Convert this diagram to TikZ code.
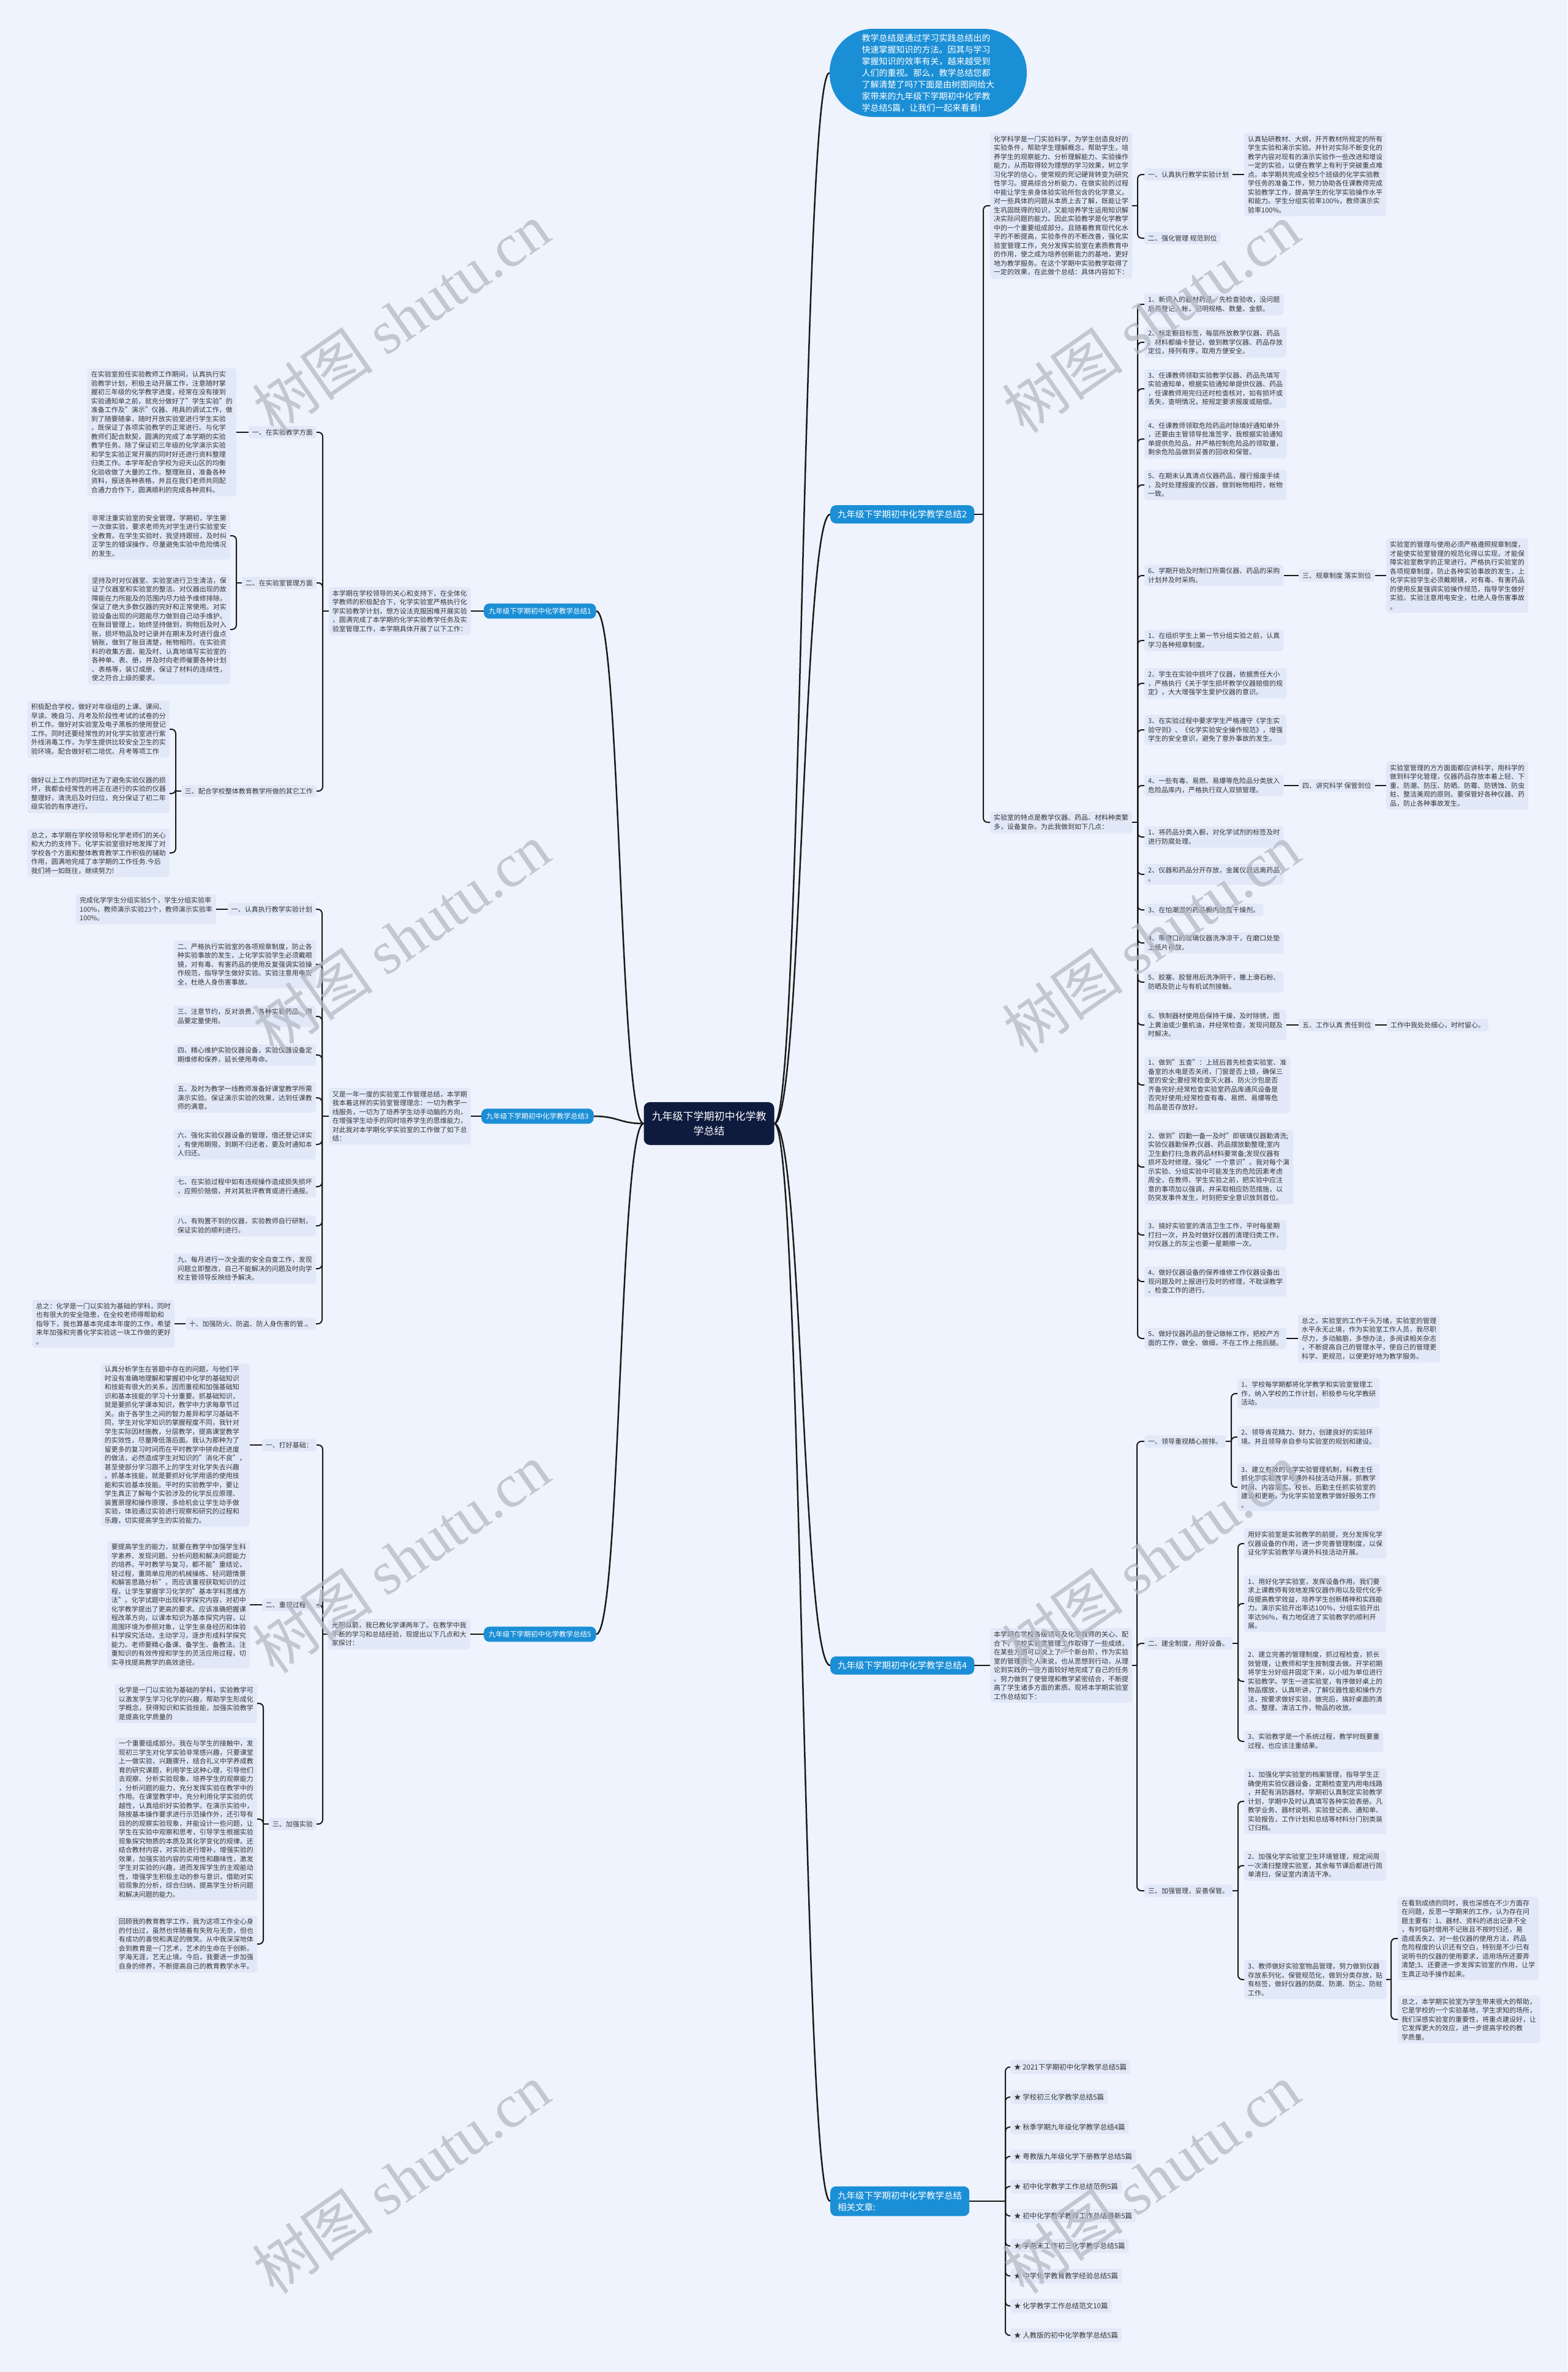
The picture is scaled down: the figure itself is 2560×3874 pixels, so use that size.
\documentclass[tikz,border=0pt]{standalone}
\usepackage{fontspec}
\setmainfont{Noto Sans CJK SC}
\newfontfamily\wmlat{Liberation Serif}
\usetikzlibrary{calc}
\definecolor{bgc}{HTML}{EEF3FD}
\definecolor{boxfill}{HTML}{E1E9F9}
\definecolor{txt}{HTML}{363636}
\definecolor{lblue}{HTML}{1B8FD6}
\definecolor{navy}{HTML}{0F1B3E}
\definecolor{wm}{HTML}{B4B9C4}
\tikzset{
 para/.style={fill=boxfill, rounded corners=4pt, inner xsep=6pt, inner ysep=5pt, text=txt, font=\fontsize{11}{14.5}\selectfont, align=left},
 rp/.style={para, anchor=west},
 lp/.style={para, anchor=east},
 lbl/.style={fill=lblue, text=white, rounded corners=9pt, inner xsep=12pt, inner ysep=8pt, font=\fontsize{14.5}{19}\selectfont, align=left},
 lbll/.style={lbl, font=\fontsize{11.5}{15}\selectfont, inner xsep=8pt, inner ysep=7pt},
 relitem/.style={para, anchor=west, font=\fontsize{11.5}{14}\selectfont, inner ysep=6pt},
 conn/.style={draw=black!90, line width=2pt},
 mainc/.style={draw=black!90, line width=2.5pt},
 wmark/.style={text=wm, text opacity=0.75, font=\fontsize{100}{100}\selectfont, rotate=35}
}
\newcommand\rbrk[3]{\coordinate (bx) at (#2,0);
 \draw[conn] (#1.east) -- (#1.east -| bx) coordinate (bt);
 \foreach \ch in {#3}{\draw[conn,rounded corners=7pt] (bt) |- (\ch.west);}}
\newcommand\lbrk[3]{\coordinate (bx) at (#2,0);
 \draw[conn] (#1.west) -- (#1.west -| bx) coordinate (bt);
 \foreach \ch in {#3}{\draw[conn,rounded corners=7pt] (bt) |- (\ch.east);}}
\begin{document}
\begin{tikzpicture}[x=1pt,y=-1pt]
\useasboundingbox (0,0) rectangle (2560,3874);
\fill[bgc] (0,0) rectangle (2560,3874);

% ---------- root and intro ----------
\node[fill=navy, text=white, rounded corners=10pt, minimum width=213pt, minimum height=70pt, font=\fontsize{17}{24}\selectfont, align=center] (root) at (1158,1835) {九年级下学期初中化学教\\学总结};
\node[fill=lblue, text=white, rounded corners=71pt, minimum width=322pt, minimum height=144pt, font=\fontsize{14}{19}\selectfont, align=left] (intro) at (1516,119) {教学总结是通过学习实践总结出的\\快速掌握知识的方法。因其与学习\\掌握知识的效率有关，越来越受到\\人们的重视。那么，教学总结您都\\了解清楚了吗?下面是由树图网给大\\家带来的九年级下学期初中化学教\\学总结5篇，让我们一起来看看!};

% ---------- branch labels ----------
\node[lbl, anchor=west] (b2) at (1356,840) {九年级下学期初中化学教学总结2};
\node[lbl, anchor=west] (b4) at (1356,2720) {九年级下学期初中化学教学总结4};
\node[lbl, anchor=west] (rel) at (1356,3595) {九年级下学期初中化学教学总结\\相关文章:};
\node[lbll, anchor=west] (b1) at (790,998) {九年级下学期初中化学教学总结1};
\node[lbll, anchor=west] (b3) at (786,1823) {九年级下学期初中化学教学总结3};
\node[lbll, anchor=west] (b5) at (790,2669) {九年级下学期初中化学教学总结5};

% ---------- branch 2 ----------
\node[rp] (P2a) at (1617,336) {化学科学是一门实验科学，为学生创造良好的\\实验条件，帮助学生理解概念，帮助学生，培\\养学生的观察能力、分析理解能力、实验操作\\能力，从而取得较为理想的学习效果，树立学\\习化学的信心，使常规的死记硬背转变为研究\\性学习。提高综合分析能力，在做实验的过程\\中能让学生亲身体验实验所包含的化学意义。\\对一些具体的问题从本质上去了解，既能让学\\生巩固既得的知识，又能培养学生运用知识解\\决实际问题的能力。因此实验教学是化学教学\\中的一个重要组成部分。且随着教育现代化水\\平的不断提高，实验条件的不断改善，强化实\\验室管理工作，充分发挥实验室在素质教育中\\的作用，使之成为培养创新能力的基地，更好\\地为教学服务。在这个学期中实验教学取得了\\一定的效果，在此做个总结：具体内容如下：};
\node[rp] (r1a) at (1869,285) {一、认真执行教学实验计划};
\node[rp] (r1b) at (1869,389) {二、强化管理 规范到位};
\node[rp] (r1a1) at (2032,285) {认真钻研教材、大纲，开齐教材所规定的所有\\学生实验和演示实验。并针对实际不断变化的\\教学内容对现有的演示实验作一些改进和增设\\一定的实验，以便在教学上有利于突破重点难\\点。本学期共完成全校5个班级的化学实验教\\学任务的准备工作，努力协助各任课教师完成\\实验教学工作，提高学生的化学实验操作水平\\和能力。学生分组实验率100\%，教师演示实\\验率100\%。};
\node[rp] (P2b) at (1617,1343) {实验室的特点是教学仪器、药品、材料种类繁\\多，设备复杂。为此我做到如下几点：};
\node[rp] (i1) at (1869,497) {1、新调入的器材药品，先检查验收，没问题\\后再登记入帐，记明规格、数量、金额。};
\node[rp] (i2) at (1869,559) {2、标定橱目标签，每层所放教学仪器、药品\\、材料都编卡登记，做到教学仪器、药品存放\\定位，排列有序，取用方便安全。};
\node[rp] (i3) at (1869,635) {3、任课教师领取实验教学仪器、药品先填写\\实验通知单，根据实验通知单提供仪器、药品\\，任课教师用完归还时检查核对，如有损坏或\\丢失，查明情况，按规定要求报废或赔偿。};
\node[rp] (i4) at (1869,717) {4、任课教师领取危险药品时除填好通知单外\\，还要由主管领导批准签字，我根据实验通知\\单提供危险品，并严格控制危险品的领取量，\\剩余危险品做到妥善的回收和保管。};
\node[rp] (i5) at (1869,792) {5、在期末认真清点仪器药品，履行报废手续\\，及时处理报废的仪器，做到帐物相符，帐物\\一致。};
\node[rp] (i6) at (1869,940) {6、学期开始及时制订所需仪器、药品的采购\\计划并及时采购。};
\node[rp] (i7) at (1869,1046) {1、在组织学生上第一节分组实验之前，认真\\学习各种规章制度。};
\node[rp] (i8) at (1869,1116) {2、学生在实验中损坏了仪器，依据责任大小\\，严格执行《关于学生损坏教学仪器赔偿的规\\定》，大大增强学生爱护仪器的意识。};
\node[rp] (i9) at (1869,1192) {3、在实验过程中要求学生严格遵守《学生实\\验守则》、《化学实验安全操作规范》，增强\\学生的安全意识，避免了意外事故的发生。};
\node[rp] (i10) at (1869,1283) {4、一些有毒、易燃、易爆等危险品分类放入\\危险品库内，严格执行双人双锁管理。};
\node[rp] (i11) at (1869,1367) {1、将药品分类入橱，对化学试剂的标签及时\\进行防腐处理。};
\node[rp] (i12) at (1869,1428) {2、仪器和药品分开存放，金属仪器远离药品\\。};
\node[rp] (i13) at (1869,1486) {3、在怕潮湿的药品橱内放置干燥剂。};
\node[rp] (i14) at (1869,1540) {4、带磨口的玻璃仪器洗净凉干，在磨口处垫\\上纸片存放。};
\node[rp] (i15) at (1869,1604) {5、胶塞、胶管用后洗净阴干，撒上滑石粉、\\防晒及防止与有机试剂接触。};
\node[rp] (i16) at (1869,1674) {6、铁制器材使用后保持干燥，及时除锈，图\\上黄油或少量机油，并经常检查，发现问题及\\时解决。};
\node[rp] (i17) at (1869,1772) {1、做到"五查"：上班后首先检查实验室、准\\备室的水电是否关闭，门窗是否上锁，确保三\\室的安全;要经常检查灭火器、防火沙包是否\\齐备完好;经常检查实验室药品库通风设备是\\否完好使用;经常检查有毒、易燃、易爆等危\\险品是否存放好。};
\node[rp] (i18) at (1869,1906) {2、做到"四勤一备一及时"即玻璃仪器勤清洗;\\实验仪器勤保养;仪器、药品摆放勤整理;室内\\卫生勤打扫;急救药品材料要常备;发现仪器有\\损坏及时修理。强化"一个意识"。我对每个演\\示实验、分组实验中可能发生的危险因素考虑\\周全，在教师、学生实验之前，把实验中应注\\意的事项加以强调，并采取相应防范措施，以\\防突发事件发生，时刻把安全意识放到首位。};
\node[rp] (i19) at (1869,2017) {3、搞好实验室的清洁卫生工作，平时每星期\\打扫一次，并及时做好仪器的清理归类工作，\\对仪器上的灰尘也要一星期擦一次。};
\node[rp] (i20) at (1869,2093) {4、做好仪器设备的保养维修工作仪器设备出\\现问题及时上报进行及时的修理，不耽误教学\\、检查工作的进行。};
\node[rp] (i21) at (1869,2186) {5、做好仪器药品的登记做帐工作，把校产方\\面的工作，做全、做细，不在工作上拖后腿。};
\node[rp] (l6) at (2121,940) {三、规章制度 落实到位};
\node[rp] (p6) at (2264,940) {实验室的管理与使用必须严格遵照规章制度，\\才能使实验室管理的规范化得以实现，才能保\\障实验室教学的正常进行。严格执行实验室的\\各项规章制度，防止各种实验事故的发生，上\\化学实验学生必须戴眼镜，对有毒、有害药品\\的使用反复强调实验操作规范，指导学生做好\\实验。实验注意用电安全，杜绝人身伤害事故\\。};
\node[rp] (l10) at (2121,1283) {四、讲究科学 保管到位};
\node[rp] (p10) at (2264,1283) {实验室管理的方方面面都应讲科学，用科学的\\做到科学化管理，仪器药品存放本着上轻、下\\重、防潮、防压、防晒、防霉、防锈蚀、防虫\\蛀、整洁美观的原则。要保管好各种仪器、药\\品，防止各种事故发生。};
\node[rp] (l16) at (2121,1674) {五、工作认真 责任到位};
\node[rp] (p16) at (2265,1674) {工作中我处处细心，时时留心。};
\node[rp] (p21) at (2120,2186) {总之，实验室的工作千头万绪，实验室的管理\\水平永无止境，作为实验室工作人员，我尽职\\尽力，多动脑筋，多想办法，多阅读相关杂志\\，不断提高自己的管理水平，使自己的管理更\\科学、更规范，以便更好地为教学服务。};

% ---------- branch 4 ----------
\node[rp] (P4) at (1617,2720) {本学期在学校各级领导及化学教师的关心、配\\合下，学校实验室管理工作取得了一些成绩，\\在某些方面可以说上了一个新台阶，作为实验\\室的管理员个人来说，也从思想到行动，从理\\论到实践的一些方面较好地完成了自己的任务\\。努力做到了使管理和教学紧密结合，不断提\\高了学生诸多方面的素质。现将本学期实验室\\工作总结如下：};
\node[rp] (g1) at (1869,2354) {一、领导重视精心按排。};
\node[rp] (g2) at (1869,2684) {二、建全制度，用好设备。};
\node[rp] (g3) at (1869,3088) {三、加强管理，妥善保管。};
\node[rp] (g1a) at (2021,2276) {1、学校每学期都将化学教学和实验室管理工\\作，纳入学校的工作计划，积极参与化学教研\\活动。};
\node[rp] (g1b) at (2021,2347) {2、领导肯花精力、财力，创建良好的实验环\\境。并且领导亲自参与实验室的规划和建设。};
\node[rp] (g1c) at (2021,2429) {3、建立有效的化学实验管理机制，科教主任\\抓化学实验教学与课外科技活动开展，抓教学\\时间、内容落实，校长、后勤主任抓实验室的\\建设和更新，为化学实验室教学做好服务工作\\。};
\node[rp] (g2a) at (2032,2521) {用好实验室是实验教学的前提，充分发挥化学\\仪器设备的作用，进一步完善管理制度，以保\\证化学实验教学与课外科技活动开展。};
\node[rp] (g2b) at (2032,2619) {1、用好化学实验室，发挥设备作用。我们要\\求上课教师有效地发挥仪器作用以及现代化手\\段提高教学效益，培养学生创新精神和实践能\\力。演示实验开出率达100\%，分组实验开出\\率达96\%，有力地促进了实验教学的顺利开\\展。};
\node[rp] (g2c) at (2032,2746) {2、建立完善的管理制度，抓过程检查，抓长\\效管理，让教师和学生按制度去做。开学初期\\将学生分好组并固定下来，以小组为单位进行\\实验教学。学生一进实验室，有序做好桌上的\\物品摆放，认真听讲，了解仪器性能和操作方\\法，按要求做好实验，做完后，搞好桌面的清\\点、整理、清洁工作，物品的收放。};
\node[rp] (g2d) at (2032,2844) {3、实验教学是一个系统过程，教学时既要重\\过程，也应该注重结果。};
\node[rp] (g3a) at (2032,2942) {1、加强化学实验室的档案管理，指导学生正\\确使用实验仪器设备，定期检查室内用电线路\\，并配有消防器材。学期初认真制定实验教学\\计划，学期中及时认真填写各种实验表册。凡\\教学业务、器材说明、实验登记表、通知单、\\实验报告，工作计划和总结等材料分门别类装\\订归档。};
\node[rp] (g3b) at (2032,3047) {2、加强化学实验室卫生环境管理，规定间周\\一次清扫整理实验室，其余每节课后都进行简\\单清扫，保证室内清洁干净。};
\node[rp] (g3c) at (2032,3233) {3、教师做好实验室物品管理，努力做到仪器\\存放系列化，保管规范化，做到分类存放，贴\\有标签，做好仪器的防腐、防潮、防尘、防蛀\\工作。};
\node[rp] (g3c1) at (2283,3166) {在看到成绩的同时，我也深感在不少方面存\\在问题，反思一学期来的工作，认为存在问\\题主要有：1、器材、资料的进出记录不全\\，有时临时借用不记账且不按时归还，易\\造成丢失2、对一些仪器的使用方法，药品\\危险程度的认识还有空白，特别是不少已有\\说明书的仪器的使用要求，适用场所还要弄\\清楚;3、还要进一步发挥实验室的作用，让学\\生真正动手操作起来。};
\node[rp] (g3c2) at (2283,3298) {总之，本学期实验室为学生带来很大的帮助，\\它是学校的一个实验基地，学生求知的场所，\\我们深感实验室的重要性，将重点建设好，让\\它发挥更大的效应，进一步提高学校的教\\学质量。};

% ---------- related ----------
\node[relitem] (ra1) at (1650,3376) {★ 2021下学期初中化学教学总结5篇};
\node[relitem] (ra2) at (1650,3425) {★ 学校初三化学教学总结5篇};
\node[relitem] (ra3) at (1650,3474) {★ 秋季学期九年级化学教学总结4篇};
\node[relitem] (ra4) at (1650,3522) {★ 粤教版九年级化学下册教学总结5篇};
\node[relitem] (ra5) at (1650,3571) {★ 初中化学教学工作总结范例5篇};
\node[relitem] (ra6) at (1650,3619) {★ 初中化学教学教师工作总结最新5篇};
\node[relitem] (ra7) at (1650,3668) {★ 学期末工作初三化学教学总结5篇};
\node[relitem] (ra8) at (1650,3717) {★ 中学化学教育教学经验总结5篇};
\node[relitem] (ra9) at (1650,3766) {★ 化学教学工作总结范文10篇};
\node[relitem] (ra10) at (1650,3814) {★ 人教版的初中化学教学总结5篇};

% ---------- branch 1 ----------
\node[lp] (P1) at (769,998) {本学期在学校领导的关心和支持下，在全体化\\学教师的积极配合下，化学实验室严格执行化\\学实验教学计划，想方设法克服困难开展实验\\，圆满完成了本学期的化学实验教学任务及实\\验室管理工作，本学期具体开展了以下工作：};
\node[lp] (a1) at (517,706) {一、在实验教学方面};
\node[lp] (a2) at (517,952) {二、在实验室管理方面};
\node[lp] (a3) at (517,1292) {三、配合学校整体教育教学所做的其它工作};
\node[lp] (a1p) at (386,706) {在实验室担任实验教师工作期间，认真执行实\\验教学计划，积极主动开展工作，注意随时掌\\握初三年级的化学教学进度，经常在没有接到\\实验通知单之前，就充分做好了"学生实验"的\\准备工作及"演示"仪器、用具的调试工作，做\\到了随要随拿，随时开放实验室进行学生实验\\，既保证了各项实验教学的正常进行。与化学\\教师们配合默契，圆满的完成了本学期的实验\\教学任务。除了保证初三年级的化学演示实验\\和学生实验正常开展的同时好还进行资料整理\\归类工作。本学年配合学校为迎天山区的均衡\\化验收做了大量的工作。整理账目，准备各种\\资料，报送各种表格，并且在我们老师共同配\\合通力合作下，圆满顺利的完成各种资料。};
\node[lp] (a2a) at (376,875) {非常注重实验室的安全管理，学期初，学生第\\一次做实验，要求老师先对学生进行实验室安\\全教育。在学生实验时，我坚持跟班，及时纠\\正学生的错误操作，尽量避免实验中危险情况\\的发生。};
\node[lp] (a2b) at (376,1028) {坚持及时对仪器室、实验室进行卫生清洁，保\\证了仪器室和实验室的整洁。对仪器出现的故\\障能在力所能及的范围内尽力给予维修排除，\\保证了绝大多数仪器的完好和正常使用。对实\\验设备出现的问题能尽力做到自己动手维护。\\在账目管理上，始终坚持做到，购物后及时入\\账，损坏物品及时记录并在期末及时进行盘点\\销账，做到了账目清楚，帐物相符。在实验资\\料的收集方面，能及时、认真地填写实验室的\\各种单、表、册，并及时向老师催要各种计划\\、表格等，装订成册，保证了材料的连续性，\\使之符合上级的要求。};
\node[lp] (a3a) at (277,1191) {积极配合学校，做好对年级组的上课、课间、\\早读、晚自习、月考及阶段性考试的试卷的分\\析工作。做好对实验室及电子黑板的使用登记\\工作。同时还要经常性的对化学实验室进行紫\\外线消毒工作，为学生提供比较安全卫生的实\\验环境。配合做好初二培优、月考等项工作};
\node[lp] (a3b) at (277,1296) {做好以上工作的同时还为了避免实验仪器的损\\坏，我都会经常性的将正在进行的实验的仪器\\整理好，清洗后及时归位，充分保证了初二年\\级实验的有序进行。};
\node[lp] (a3c) at (277,1393) {总之，本学期在学校领导和化学老师们的关心\\和大力的支持下。化学实验室很好地发挥了对\\学校各个方面和整体教育教学工作积极的辅助\\作用，圆满地完成了本学期的工作任务.今后\\我们将一如既往，继续努力!};

% ---------- branch 3 ----------
\node[lp] (P3) at (769,1823) {又是一年一度的实验室工作管理总结，本学期\\我本着这样的实验室管理理念：一切为教学一\\线服务，一切为了培养学生动手动脑的方向，\\在增强学生动手的同时培养学生的思维能力，\\对此我对本学期化学实验室的工作做了如下总\\结：};
\node[lp] (c1) at (516,1485) {一、认真执行教学实验计划};
\node[lp] (c1p) at (353,1485) {完成化学学生分组实验5个，学生分组实验率\\100\%，教师演示实验23个，教师演示实验率\\100\%。};
\node[lp] (c2) at (516,1575) {二、严格执行实验室的各项规章制度，防止各\\种实验事故的发生，上化学实验学生必须戴眼\\镜，对有毒、有害药品的使用反复强调实验操\\作规范，指导学生做好实验。实验注意用电安\\全，杜绝人身伤害事故。};
\node[lp] (c3) at (516,1660) {三、注意节约，反对浪费，各种实验药品、用\\品要定量使用。};
\node[lp] (c4) at (516,1723) {四、精心维护实验仪器设备，实验仪器设备定\\期维修和保养，延长使用寿命。};
\node[lp] (c5) at (516,1793) {五、及时为教学一线教师准备好课堂教学所需\\演示实验。保证演示实验的效果，达到任课教\\师的满意。};
\node[lp] (c6) at (516,1869) {六、强化实验仪器设备的管理，借还登记详实\\，有使用期限，到期不归还者，要及时通知本\\人归还。};
\node[lp] (c7) at (516,1938) {七、在实验过程中如有违规操作造成损失损坏\\，应照价赔偿，并对其批评教育或进行通报。};
\node[lp] (c8) at (516,2002) {八、有购置不到的仪器，实验教师自行研制，\\保证实验的顺利进行。};
\node[lp] (c9) at (516,2072) {九、每月进行一次全面的安全自查工作，发现\\问题立即整改，自己不能解决的问题及时向学\\校主管领导反映给予解决。};
\node[lp] (c10) at (516,2162) {十、加强防火、防盗、防人身伤害的管.。};
\node[lp] (c10p) at (285,2162) {总之：化学是一门以实验为基础的学科，同时\\也有很大的安全隐患，在全校老师得帮助和\\指导下，我也算基本完成本年度的工作，希望\\来年加强和完善化学实验这一块工作做的更好\\。};

% ---------- branch 5 ----------
\node[lp] (P5) at (768,2669) {光阴似箭，我已教化学课两年了。在教学中我\\不断的学习和总结经验，现提出以下几点和大\\家探讨：};
\node[lp] (d1) at (517,2360) {一、打好基础：};
\node[lp] (d2) at (517,2621) {二、重视过程：};
\node[lp] (d3) at (517,2979) {三、加强实验};
\node[lp] (d1p) at (408,2360) {认真分析学生在答题中存在的问题，与他们平\\时没有准确地理解和掌握初中化学的基础知识\\和技能有很大的关系，因而重视和加强基础知\\识和基本技能的学习十分重要。抓基础知识，\\就是要抓化学课本知识，教学中力求每章节过\\关。由于各学生之间的智力差异和学习基础不\\同，学生对化学知识的掌握程度不同，我针对\\学生实际因材施教，分层教学，提高课堂教学\\的实效性，尽量降低落后面。我认为那种为了\\留更多的复习时间而在平时教学中拼命赶进度\\的做法，必然造成学生对知识的"消化不良"，\\甚至使部分学习跟不上的学生对化学失去兴趣\\。抓基本技能，就是要抓好化学用语的使用技\\能和实验基本技能。平时的实验教学中，要让\\学生真正了解每个实验涉及的化学反应原理、\\装置原理和操作原理，多给机会让学生动手做\\实验，体验通过实验进行观察和研究的过程和\\乐趣，切实提高学生的实验能力。};
\node[lp] (d2p) at (408,2621) {要提高学生的能力，就要在教学中加强学生科\\学素养、发现问题、分析问题和解决问题能力\\的培养。平时教学与复习，都不能"重结论，\\轻过程，重简单应用的机械操练、轻问题情景\\和解答思路分析"。而应该重视获取知识的过\\程，让学生掌握学习化学的"基本学科思维方\\法"。化学试题中出现科学探究内容，对初中\\化学教学提出了更高的要求。应该准确把握课\\程改革方向，以课本知识为基本探究内容，以\\周围环境为参照对象，让学生亲身经历和体验\\科学探究活动，主动学习，逐步形成科学探究\\能力。老师要精心备课、备学生、备教法。注\\重知识的有效传授和学生的灵活应用过程，切\\实寻找提高教学的高效途径。};
\node[lp] (d3a) at (420,2782) {化学是一门以实验为基础的学科，实验教学可\\以激发学生学习化学的兴趣，帮助学生形成化\\学概念，获得知识和实验技能，加强实验教学\\是提高化学质量的};
\node[lp] (d3b) at (420,2971) {一个重要组成部分。我在与学生的接触中，发\\现初三学生对化学实验非常感兴趣，只要课堂\\上一做实验，兴趣骤升，结合礼义中学养成教\\育的研究课题，利用学生这种心理，引导他们\\去观察、分析实验现象，培养学生的观察能力\\，分析问题的能力，充分发挥实验在教学中的\\作用。在课堂教学中，充分利用化学实验的优\\越性，认真组织好实验教学。在演示实验中，\\除按基本操作要求进行示范操作外，还引导有\\目的的观察实验现象，并能设计一些问题，让\\学生在实验中观察和思考，引导学生根据实验\\现象探究物质的本质及其化学变化的规律。还\\结合教材内容，对实验进行增补，增强实验的\\效果，加强实验内容的实用性和趣味性，激发\\学生对实验的兴趣，进而发挥学生的主观能动\\性，增强学生积极主动的参与意识，借助对实\\验现象的分析，综合归纳，提高学生分析问题\\和解决问题的能力。};
\node[lp] (d3c) at (420,3175) {回顾我的教育教学工作，我为这项工作全心身\\的付出过，虽然也伴随着有失败与无奈，但也\\有成功的喜悦和满足的微笑。从中我深深地体\\会到教育是一门艺术，艺术的生命在于创新。\\学海无涯，艺无止境。今后，我要进一步加强\\自身的修养，不断提高自己的教育教学水平。};

% ---------- connectors ----------
\draw[mainc] (root.east) .. controls +(45,0) and +(-45,0) .. (intro.west);
\draw[mainc] (root.east) .. controls +(45,0) and +(-45,0) .. (b2.west);
\draw[mainc] (root.east) .. controls +(45,0) and +(-45,0) .. (b4.west);
\draw[mainc] (root.east) .. controls +(45,0) and +(-45,0) .. (rel.west);
\draw[mainc] (root.west) .. controls +(-40,0) and +(40,0) .. (b1.east);
\draw[mainc] (root.west) .. controls +(-40,0) and +(40,0) .. (b3.east);
\draw[mainc] (root.west) .. controls +(-40,0) and +(40,0) .. (b5.east);

\rbrk{b2}{1606}{P2a,P2b}
\rbrk{P2a}{1858}{r1a,r1b}
\draw[conn] (r1a.east) -- (r1a1.west);
\rbrk{P2b}{1858}{i1,i2,i3,i4,i5,i6,i7,i8,i9,i10,i11,i12,i13,i14,i15,i16,i17,i18,i19,i20,i21}
\draw[conn] (i6.east) -- (l6.west);
\draw[conn] (l6.east) -- (p6.west);
\draw[conn] (i10.east) -- (l10.west);
\draw[conn] (l10.east) -- (p10.west);
\draw[conn] (i16.east) -- (l16.west);
\draw[conn] (l16.east) -- (p16.west);
\draw[conn] (i21.east) -- (p21.west);

\draw[conn] (b4.east) -- (P4.west);
\rbrk{P4}{1857}{g1,g2,g3}
\rbrk{g1}{2011}{g1a,g1b,g1c}
\rbrk{g2}{2022}{g2a,g2b,g2c,g2d}
\rbrk{g3}{2022}{g3a,g3b,g3c}
\rbrk{g3c}{2272}{g3c1,g3c2}

\rbrk{rel}{1642}{ra1,ra2,ra3,ra4,ra5,ra6,ra7,ra8,ra9,ra10}

\draw[conn] (b1.west) -- (P1.east);
\lbrk{P1}{527}{a1,a2,a3}
\draw[conn] (a1.west) -- (a1p.east);
\lbrk{a2}{386}{a2a,a2b}
\lbrk{a3}{287}{a3a,a3b,a3c}

\draw[conn] (b3.west) -- (P3.east);
\lbrk{P3}{526}{c1,c2,c3,c4,c5,c6,c7,c8,c9,c10}
\draw[conn] (c1.west) -- (c1p.east);
\draw[conn] (c10.west) -- (c10p.east);

\draw[conn] (b5.west) -- (P5.east);
\lbrk{P5}{527}{d1,d2,d3}
\draw[conn] (d1.west) -- (d1p.east);
\draw[conn] (d2.west) -- (d2p.east);
\lbrk{d3}{430}{d3a,d3b,d3c}

% ---------- watermarks ----------
\foreach \wx/\wy [count=\wi] in {655/519,1880/519,655/1532,1880/1532,655/2545,1880/2545,655/3558,1880/3558}{
  \node[wmark] (wm\wi) at (\wx,\wy) {树图 {\wmlat shutu.cn}};
}
\end{tikzpicture}
\end{document}
